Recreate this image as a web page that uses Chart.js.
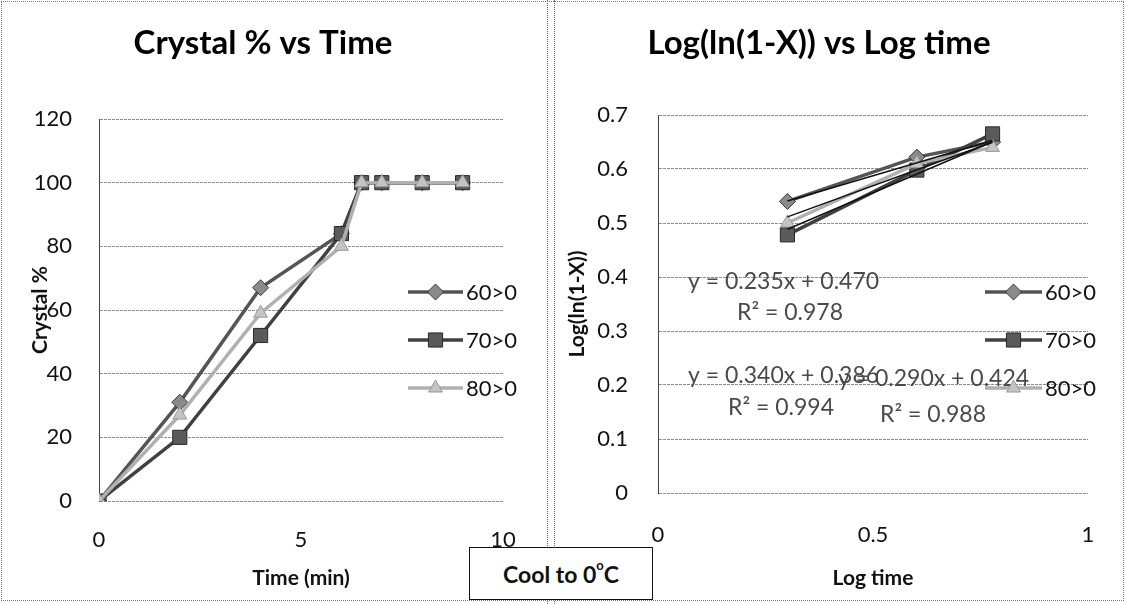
<!DOCTYPE html>
<html><head><meta charset="utf-8">
<script src="https://cdn.jsdelivr.net/npm/chart.js@4.4.1/dist/chart.umd.min.js"></script>
<style>
html,body{margin:0;padding:0;background:#fff;}
#wrap{position:relative;width:1125px;height:604px;overflow:hidden;background:#fff;font-family:Lato,"Open Sans",sans-serif;}
#frame{position:absolute;left:1px;top:1px;width:1121px;height:598px;border:1px dotted #777;}
#sep{position:absolute;left:547px;top:0;width:8px;height:604px;border-left:1px dotted #666;border-right:1px dotted #666;box-sizing:border-box;}
#c1{position:absolute;left:0;top:0;}
#c2{position:absolute;left:556px;top:0;}
#box{position:absolute;left:469px;top:547px;width:184px;height:53px;border:1.5px solid #111;background:#fff;box-sizing:border-box;
  font:bold 23px Lato,"Open Sans",sans-serif;color:#111;display:flex;align-items:center;justify-content:center;}
#box .deg{font-size:13px;position:relative;top:-9px;}
</style></head>
<body>
<div id="wrap">
  <canvas id="c1" width="553" height="604"></canvas>
  <canvas id="c2" width="569" height="604"></canvas>
  <div id="sep"></div>
  <div id="frame"></div>
  <div id="box">Cool to 0<span class="deg">o</span>C</div>
</div>
<script>
// ---------- data ----------
const seriesNames = ['60>0', '70>0', '80>0'];
const timeMin = [0, 2, 4, 6, 6.5, 7, 8, 9];
const crystal60 = [0, 31, 67, 84, 100, 100, 100, 100];
const crystal70 = [0, 20, 52, 84, 100, 100, 100, 100];
const crystal80 = [0, 27, 59, 80, 100, 100, 100, 100];

const logTime = [0.301, 0.602, 0.778];
const logLn60 = [0.540, 0.622, 0.650];
const logLn70 = [0.478, 0.598, 0.665];
const logLn80 = [0.500, 0.610, 0.640];

// linear trendlines printed on the chart (slope, intercept, R²)
const trendSlope = [0.235, 0.340, 0.290];
const trendIntercept = [0.470, 0.386, 0.424];
const trendR2 = ['0.978', '0.994', '0.988'];

const leftXTicks = [0, 5, 10];
const leftYTicks = [0, 20, 40, 60, 80, 100, 120];
const rightXTicks = [0, 0.5, 1];
const rightYTicks = [0, 0.1, 0.2, 0.3, 0.4, 0.5, 0.6, 0.7];

// ---------- styles ----------
const FONT = 'Lato, "Open Sans", sans-serif';
const styles = [
  {line:'#555555', fill:'#8a8a8a', edge:'#3a3a3a', pointStyle:'rectRot', radius:8},
  {line:'#404040', fill:'#5a5a5a', edge:'#2a2a2a', pointStyle:'rect', radius:10},
  {line:'#b0b0b0', fill:'#c4c4c4', edge:'#999999', pointStyle:'triangle', radius:8}
];

function pts(xs, ys){ return xs.map((x,i)=>({x:x, y:ys[i]})); }
function mkSet(i, xs, ys){
  const s = styles[i];
  return {label:seriesNames[i], data:pts(xs,ys), borderColor:s.line, borderWidth:3.5,
    backgroundColor:s.fill, pointBackgroundColor:s.fill, pointBorderColor:s.edge, pointBorderWidth:1,
    pointStyle:s.pointStyle, pointRadius:s.radius, pointHoverRadius:s.radius, showLine:true, tension:0, order:3-i};
}
const fmt = v => String(Math.round(v * 1000) / 1000);

const overlay = {
  id:'overlay',
  afterDraw(chart, args, o){
    const ctx = chart.ctx;
    ctx.save();
    ctx.fillStyle = '#000';
    ctx.font = 'bold ' + o.titleSize + 'px ' + FONT;
    ctx.textAlign = 'center'; ctx.textBaseline = 'middle';
    ctx.fillText(o.title, o.titleX, o.titleY);
    if (o.eqs){
      ctx.fillStyle = '#4a4a4a';
      ctx.font = o.eqSize + 'px ' + FONT;
      ctx.textAlign = 'left';
      o.eqs.forEach(e => ctx.fillText(e.text, e.x, e.y));
    }
    chart.data.datasets.forEach((ds) => {
      if (ds.isTrend) return;
      const idx = seriesNames.indexOf(ds.label);
      const y = o.legendY[idx];
      ctx.strokeStyle = ds.borderColor; ctx.lineWidth = 3.5;
      ctx.beginPath(); ctx.moveTo(o.legendX, y); ctx.lineTo(o.legendX + o.legendLen, y); ctx.stroke();
      ctx.fillStyle = ds.pointBackgroundColor; ctx.strokeStyle = ds.pointBorderColor; ctx.lineWidth = 1;
      Chart.helpers.drawPoint(ctx, {pointStyle:ds.pointStyle, radius:ds.pointRadius, rotation:0, borderWidth:1},
        o.legendX + o.legendLen/2, y);
      ctx.fillStyle = '#111'; ctx.font = o.legendSize + 'px ' + FONT;
      ctx.textAlign = 'left'; ctx.textBaseline = 'middle';
      ctx.fillText(ds.label, o.legendX + o.legendLen + 3, y + 1);
    });
    ctx.restore();
  }
};

function yScale(min, max, ticks, width, tickPad, titleText, titlePad){
  return {
    type:'linear', min:min, max:max,
    afterBuildTicks(s){ s.ticks = ticks.map(v => ({value:v})); },
    ticks:{color:'#111', font:{family:FONT, size:22}, padding:tickPad, callback:fmt},
    grid:{color:'#8c8c8c', lineWidth:1, drawTicks:false},
    border:{display:true, color:'#444', width:1, dash:[3,1]},
    title:{display:true, text:titleText, color:'#111', font:{family:FONT, size:21, weight:'bold'}, padding:{top:titlePad, bottom:0}},
    afterFit(s){ s.width = width; }
  };
}
function xScale(min, max, ticks, height, tickPad, titleText, titlePad){
  return {
    type:'linear', min:min, max:max,
    afterBuildTicks(s){ s.ticks = ticks.map(v => ({value:v})); },
    ticks:{color:'#111', font:{family:FONT, size:22}, padding:tickPad, callback:fmt},
    grid:{display:false, drawTicks:false},
    border:{display:false},
    title:{display:true, text:titleText, color:'#111', font:{family:FONT, size:21, weight:'bold'}, padding:{top:0, bottom:titlePad}},
    afterFit(s){ s.height = height; }
  };
}

// ---------- left chart ----------
new Chart(document.getElementById('c1'), {
  type:'scatter',
  data:{datasets:[mkSet(0,timeMin,crystal60), mkSet(1,timeMin,crystal70), mkSet(2,timeMin,crystal80)]},
  options:{
    responsive:false, animation:false, events:[],
    layout:{padding:{left:0, right:50, top:119, bottom:0}},
    scales:{
      x: xScale(0, 10, leftXTicks, 103, 26, 'Time (min)', 13),
      y: yScale(0, 120, leftYTicks, 99, 27, 'Crystal %', 28)
    },
    plugins:{
      legend:{display:false}, tooltip:{enabled:false}, title:{display:false},
      overlay:{title:'Crystal % vs Time', titleX:263, titleY:43, titleSize:33,
        legendX:408, legendLen:55, legendY:[292,340,388], legendSize:22}
    }
  },
  plugins:[overlay]
});

// ---------- right chart ----------
const trendSets = trendSlope.map((m, i) => ({
  label:'trend ' + seriesNames[i], isTrend:true,
  data:[{x:logTime[0], y:m*logTime[0] + trendIntercept[i]}, {x:logTime[logTime.length-1], y:m*logTime[logTime.length-1] + trendIntercept[i]}],
  borderColor:'#111', borderWidth:1.5, pointRadius:0, showLine:true, order:0
}));
new Chart(document.getElementById('c2'), {
  type:'scatter',
  data:{datasets:[mkSet(0,logTime,logLn60), mkSet(1,logTime,logLn70), mkSet(2,logTime,logLn80)].concat(trendSets)},
  options:{
    responsive:false, animation:false, events:[],
    layout:{padding:{left:0, right:37, top:115, bottom:0}},
    scales:{
      x: xScale(0, 1, rightXTicks, 111, 29, 'Log time', 13),
      y: yScale(0, 0.7, rightYTicks, 102, 30, 'Log(ln(1-X))', 9)
    },
    plugins:{
      legend:{display:false}, tooltip:{enabled:false}, title:{display:false},
      overlay:{title:'Log(ln(1-X)) vs Log time', titleX:263, titleY:43, titleSize:33,
        legendX:429, legendLen:57, legendY:[292,340,388], legendSize:22, eqSize:23,
        eqs:[
          {text:'y = ' + trendSlope[0].toFixed(3) + 'x + ' + trendIntercept[0].toFixed(3), x:132, y:282},
          {text:'R² = ' + trendR2[0], x:181, y:313},
          {text:'y = ' + trendSlope[1].toFixed(3) + 'x + ' + trendIntercept[1].toFixed(3), x:132, y:376},
          {text:'R² = ' + trendR2[1], x:172, y:408},
          {text:'y = ' + trendSlope[2].toFixed(3) + 'x + ' + trendIntercept[2].toFixed(3), x:282, y:379},
          {text:'R² = ' + trendR2[2], x:324, y:415}
        ]}
    }
  },
  plugins:[overlay]
});
</script>
</body></html>
